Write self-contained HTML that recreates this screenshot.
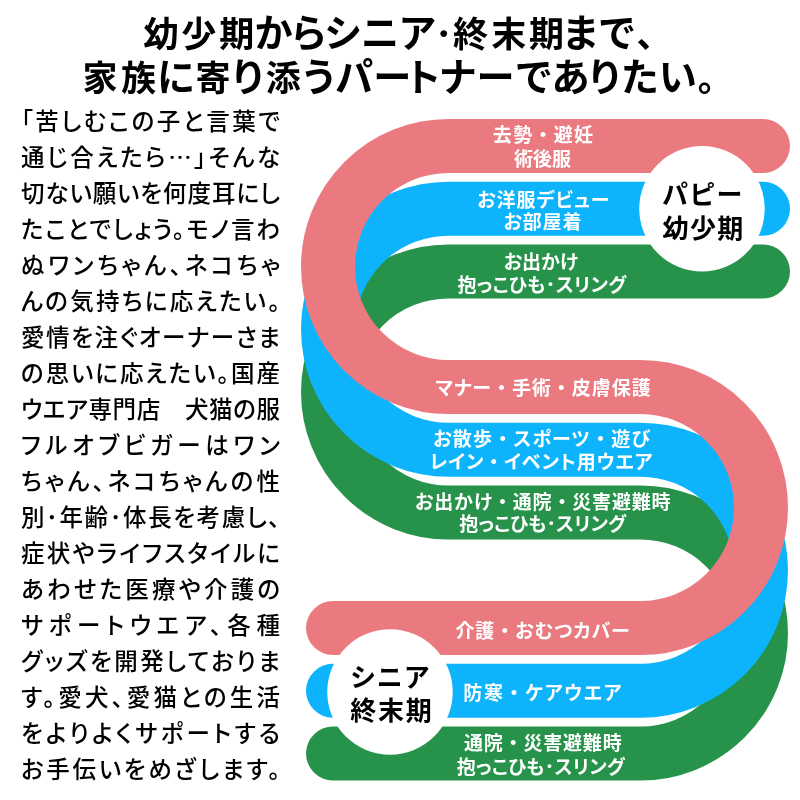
<!DOCTYPE html>
<html lang="ja"><head><meta charset="utf-8"><title>フルオブビガー</title>
<style>
html,body{margin:0;padding:0;background:#fff;}
body{will-change:transform;width:800px;height:800px;position:relative;overflow:hidden;font-family:"Liberation Sans","Noto Sans CJK JP",sans-serif;color:#000;}
svg{position:absolute;left:0;top:0;}
.t{position:absolute;margin:0;white-space:nowrap;font-weight:700;line-height:1;}
.h{font-size:35px;line-height:35px;}
.lb{color:#fff;font-size:19px;font-feature-settings:"palt";}
.lb i{font-style:normal;font-feature-settings:normal;}
.ci{font-size:26px;}
.body{position:absolute;left:21px;top:0;width:259px;}
.ln{position:absolute;left:0;width:259px;height:36px;line-height:36px;font-size:23.5px;font-weight:500;text-align:justify;text-align-last:justify;text-justify:inter-character;white-space:nowrap;font-feature-settings:"palt";}
.ln b{font-weight:500;font-family:"Noto Sans CJK JP",sans-serif;line-height:0;}
</style></head><body>
<h1 class="t h" style="left:143.5px;top:15.75px"><span style="letter-spacing:2.73px">幼</span><span style="letter-spacing:2.98px">少</span><span style="letter-spacing:0.23px">期</span><span style="letter-spacing:-3.19px;font-size:38.2px">か</span><span style="letter-spacing:-3.69px;font-size:38.2px">ら</span><span style="letter-spacing:-1.19px;font-size:38.2px">シ</span><span style="letter-spacing:-0.81px;font-size:38.2px">ニ</span><span style="letter-spacing:-1.44px;font-size:38.2px">ア</span><span style="letter-spacing:0.36px">･</span><span style="letter-spacing:3.23px">終</span><span style="letter-spacing:2.73px">末</span><span style="letter-spacing:-2.52px">期</span><span style="letter-spacing:-1.56px;font-size:38.2px">ま</span><span style="letter-spacing:0.31px;font-size:38.2px">で</span><span style="letter-spacing:0px">、</span></h1>
<h1 class="t h" style="left:82.5px;top:59.75px"><span style="letter-spacing:3.36px">家</span><span style="letter-spacing:1.11px">族</span><span style="letter-spacing:0.19px;font-size:38.2px">に</span><span style="letter-spacing:-1.14px">寄</span><span style="letter-spacing:-1.69px;font-size:38.2px">り</span><span style="letter-spacing:-0.77px">添</span><span style="letter-spacing:-3.31px;font-size:38.2px">う</span><span style="letter-spacing:0.06px;font-size:38.2px">パ</span><span style="letter-spacing:-7.94px;font-size:38.2px">ー</span><span style="letter-spacing:-2.94px;font-size:38.2px">ト</span><span style="letter-spacing:-0.44px;font-size:38.2px">ナ</span><span style="letter-spacing:0.19px;font-size:38.2px">ー</span><span style="letter-spacing:-1.56px;font-size:38.2px">で</span><span style="letter-spacing:-3.56px;font-size:38.2px">あ</span><span style="letter-spacing:-3.44px;font-size:38.2px">り</span><span style="letter-spacing:-0.31px;font-size:38.2px">た</span><span style="letter-spacing:0.94px;font-size:38.2px">い</span><span style="letter-spacing:0px">。</span></h1>
<svg width="800" height="800" viewBox="0 0 800 800" fill="none" stroke-linecap="round" stroke-width="54">
<path d="M763 271.5H448.5A120.5 120.5 0 0 0 448.5 512.5H640.5A120.5 120.5 0 0 1 640.5 753.5H333" stroke="#26924a"/>
<path d="M763 208.75H448.5A120.5 120.5 0 0 0 448.5 449.75H640.5A120.5 120.5 0 0 1 640.5 690.75H333" stroke="#0db4fb"/>
<path d="M763 146H448.5A120.5 120.5 0 0 0 448.5 387H640.5A120.5 120.5 0 0 1 640.5 628H333" stroke="#ea7a80"/>
<circle cx="702" cy="208.75" r="62.75" fill="#fff" stroke="none"/>
<circle cx="390" cy="692" r="62.75" fill="#fff" stroke="none"/>
</svg>
<div class="body">
<div class="ln" style="top:104.00px">「苦しむこの子と言葉で</div>
<div class="ln" style="top:140.00px">通じ合えたら<b>…</b>」そんな</div>
<div class="ln" style="top:176.00px">切ない願いを何度耳にし</div>
<div class="ln" style="top:212.00px">たことでしょう。モノ言わ</div>
<div class="ln" style="top:248.00px">ぬワンちゃん、ネコちゃ</div>
<div class="ln" style="top:284.00px">んの気持ちに応えたい。</div>
<div class="ln" style="top:320.00px">愛情を注ぐオーナーさま</div>
<div class="ln" style="top:356.00px">の思いに応えたい。国産</div>
<div class="ln" style="top:392.00px">ウエア専門店　犬猫の服</div>
<div class="ln" style="top:428.00px">フルオブビガーはワン</div>
<div class="ln" style="top:464.00px">ちゃん、ネコちゃんの性</div>
<div class="ln" style="top:500.00px">別･年齢･体長を考慮し、</div>
<div class="ln" style="top:536.00px">症状やライフスタイルに</div>
<div class="ln" style="top:572.00px">あわせた医療や介護の</div>
<div class="ln" style="top:608.00px">サポートウエア、各種</div>
<div class="ln" style="top:644.00px">グッズを開発しておりま</div>
<div class="ln" style="top:680.00px">す。愛犬、愛猫との生活</div>
<div class="ln" style="top:716.00px">をよりよくサポートする</div>
<div class="ln" style="top:752.00px">お手伝いをめざします。</div>
</div>
<div class="t lb" style="left:492.85px;top:126.12px;letter-spacing:1.31px">去勢<i>・</i>避妊</div>
<div class="t lb" style="left:514.05px;top:149.7px;letter-spacing:0.03px">術後服</div>
<div class="t lb" style="left:477.25px;top:191.0px;letter-spacing:0.97px">お洋服デビュー</div>
<div class="t lb" style="left:503.35px;top:212.95px;letter-spacing:0.9px">お部屋着</div>
<div class="t lb" style="left:503.75px;top:252.68px;letter-spacing:-0.08px">お出かけ</div>
<div class="t lb" style="left:457.4px;top:276.08px;letter-spacing:0.37px">抱っこひも･スリング</div>
<div class="t lb" style="left:435.45px;top:379.35px;letter-spacing:0.96px">マナー<i>・</i>手術<i>・</i>皮膚保護</div>
<div class="t lb" style="left:433.15px;top:430.32px;letter-spacing:1.21px">お散歩<i>・</i>スポーツ<i>・</i>遊び</div>
<div class="t lb" style="left:429.6px;top:453.32px;letter-spacing:0.88px">レイン<i>・</i>イベント用ウエア</div>
<div class="t lb" style="left:415.05px;top:493.48px;letter-spacing:0.83px">お出かけ<i>・</i>通院<i>・</i>災害避難時</div>
<div class="t lb" style="left:459.3px;top:515.25px;letter-spacing:0.11px">抱っこひも･スリング</div>
<div class="t lb" style="left:455.4px;top:622.45px;letter-spacing:0.91px">介護<i>・</i>おむつカバー</div>
<div class="t lb" style="left:463.25px;top:684.12px;letter-spacing:1.64px">防寒<i>・</i>ケアウエア</div>
<div class="t lb" style="left:464.0px;top:734.48px;letter-spacing:0.81px">通院<i>・</i>災害避難時</div>
<div class="t lb" style="left:456.8px;top:757.6px;letter-spacing:0.27px">抱っこひも･スリング</div>
<div class="t ci" style="left:662.0px;top:182.42px;letter-spacing:1.25px">パピー</div>
<div class="t ci" style="left:662.5px;top:215.5px;letter-spacing:1.38px">幼少期</div>
<div class="t ci" style="left:349.95px;top:664.95px;letter-spacing:0.9px">シニア</div>
<div class="t ci" style="left:350.3px;top:698.25px;letter-spacing:1.67px">終末期</div>
</body></html>
